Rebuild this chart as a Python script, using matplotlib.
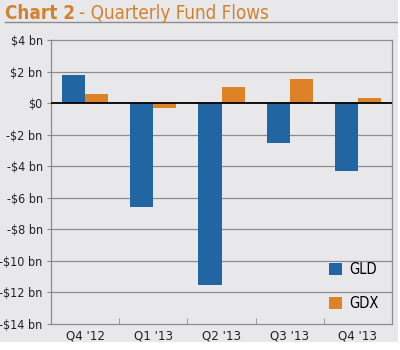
import matplotlib
matplotlib.use("Agg")
import matplotlib.pyplot as plt
from matplotlib.patches import Rectangle
from matplotlib import font_manager
import numpy as np

categories = ["Q4 '12", "Q1 '13", "Q2 '13", "Q3 '13", "Q4 '13"]
gld = [1.8, -6.6, -11.55, -2.5, -4.3]
gdx = [0.6, -0.3, 1.0, 1.5, 0.3]
yticks = [4, 2, 0, -2, -4, -6, -8, -10, -12, -14]
ylabels = ["$4 bn", "$2 bn", "$0", "-$2 bn", "-$4 bn", "-$6 bn", "-$8 bn", "-$10 bn", "-$12 bn", "-$14 bn"]

names = {f.name for f in font_manager.fontManager.ttflist}
if "Liberation Sans Narrow" in names:
    plt.rcParams['font.family'] = ["Liberation Sans Narrow", "DejaVu Sans"]
else:
    plt.rcParams['font.family'] = ["DejaVu Sans"]
    plt.rcParams['font.stretch'] = "condensed"

W, H = 400, 350
bg = "#e8e8ea"
grid = "#8c8c8c"
fig = plt.figure(figsize=(W/100, H/100), dpi=100, facecolor=bg)
fig.add_artist(Rectangle((0, 0), 1, 8/H, transform=fig.transFigure,
                         facecolor="white", edgecolor="none", zorder=10))
fig.add_artist(Rectangle((398/W, 0), 2/W, 1, transform=fig.transFigure,
                         facecolor="white", edgecolor="none", zorder=10))
# title line
fig.add_artist(plt.Line2D([5/W, 398/W], [1-22/H, 1-22/H], color=grid, lw=1.0))
t1 = fig.text(5/W, 1-19/H, "Chart 2", color="#d2822e", fontsize=13.5, fontweight="bold", va="baseline")
fig.canvas.draw()
bb = t1.get_window_extent()
fig.text((bb.x1 + 4)/W, 1-19/H, "- Quarterly Fund Flows", color="#d2822e", fontsize=13.5, va="baseline")

ax = fig.add_axes([51/W, 1-324/H, 341/W, (324-40)/H])
ax.set_facecolor(bg)
x = np.arange(len(categories))
w = 0.34
ax.bar(x - w/2, gld, w, color="#2166a2", label="GLD", zorder=3)
ax.bar(x + w/2, gdx, w, color="#de8227", label="GDX", zorder=3)
ax.set_xlim(-0.5, len(categories) - 0.5)
ax.set_ylim(-14, 4)
ax.set_yticks(yticks)
ax.set_yticklabels(ylabels, fontsize=9, color="#222222")
for t in yticks:
    if t == 0:
        ax.axhline(0, color="black", lw=1.3, zorder=4)
    elif t not in (-14, 4):
        ax.axhline(t, color=grid, lw=0.9, zorder=1)
ax.set_xticks(x)
ax.set_xticklabels(categories, fontsize=9.5, color="#222222")
ax.tick_params(axis="x", length=0, pad=4)
ax.tick_params(axis="y", length=3, color=grid, pad=3)
ax.set_xticks(np.arange(0.5, len(categories) - 0.5, 1), minor=True)
ax.tick_params(axis="x", which="minor", direction="in", length=4, color=grid)
for s in ["top", "right", "left", "bottom"]:
    ax.spines[s].set_color(grid)
    ax.spines[s].set_linewidth(0.9)

leg = ax.legend(loc="lower right", bbox_to_anchor=(1.0, 0.0), frameon=False, fontsize=10.5,
                handlelength=0.9, handleheight=0.9, labelspacing=1.3, handletextpad=0.5)

fig.savefig("out.png", dpi=100, facecolor=bg)
